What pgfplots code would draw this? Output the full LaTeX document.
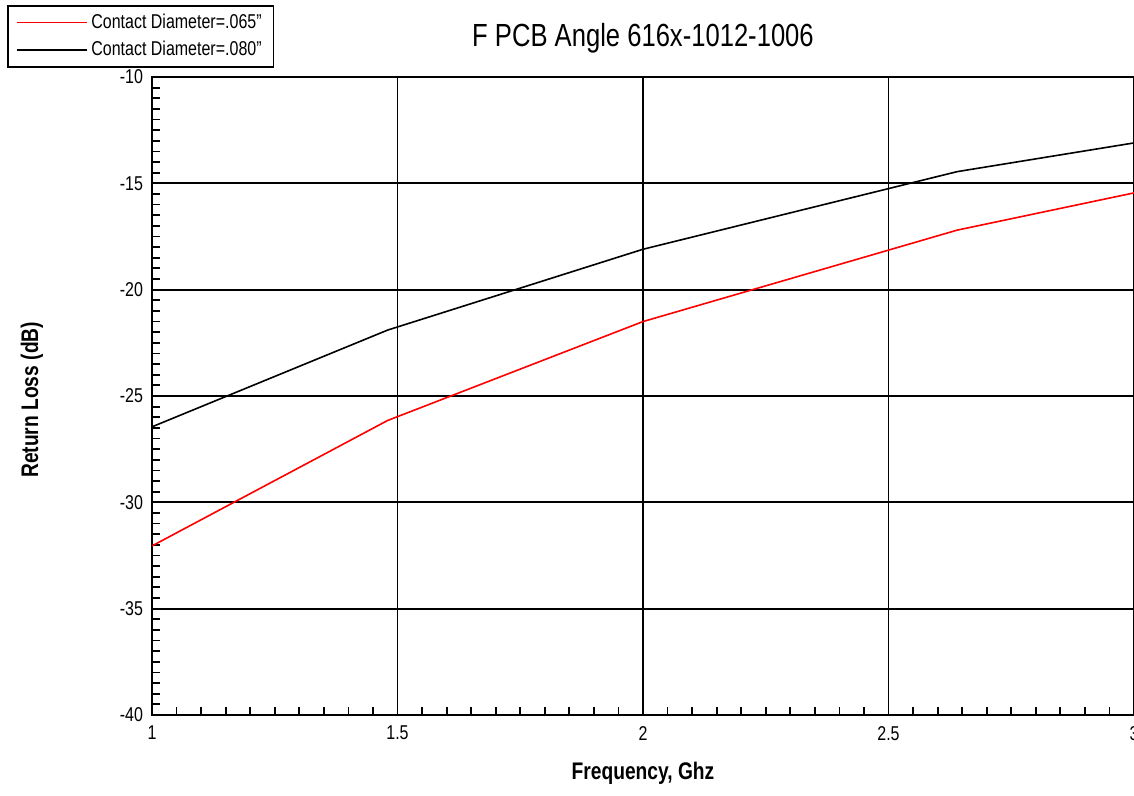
\documentclass[border=0pt]{standalone}
\usepackage{fontspec}
\setmainfont{Liberation Sans}[FakeStretch=0.8]
\usepackage{pgfplots}
\pgfplotsset{compat=1.18}

\begin{document}
\begin{tikzpicture}
% 1 px of the reference = 0.5pt
\useasboundingbox (-76pt,-40.5pt) rectangle (491pt,357.5pt);
\begin{axis}[
    at={(0pt,0pt)}, anchor=south west,
    scale only axis,
    width=491pt, height=319pt,
    xmin=1, xmax=3, ymin=-40, ymax=-10,
    xtick={1,1.5,2,2.5,3},
    ytick={-40,-35,-30,-25,-20,-15,-10},
    minor tick num=9,
    tick align=inside,
    xtick pos=bottom, ytick pos=left,
    minor tick length=4pt, major tick length=4pt,
    grid=major,
    major grid style={black, line width=0.9pt},
    axis line style={black, line width=1pt},
    every tick/.style={black, line width=0.9pt},
    /pgf/number format/assume math mode=true,
    xticklabel style={font=\fontsize{10}{12}\selectfont, yshift=-2pt},
    yticklabel style={font=\fontsize{10}{12}\selectfont, xshift=-1pt},
    title={F PCB Angle 616x-1012-1006},
    title style={at={(0.5,1)}, anchor=center, yshift=13.5pt, font=\fontsize{16}{19}\selectfont},
    xlabel={\textbf{Frequency, Ghz}},
    ylabel={\textbf{Return Loss (dB)}},
    xlabel style={at={(axis description cs:0.5,0)}, anchor=center, yshift=-29pt, font=\fontsize{12}{14}\selectfont},
    ylabel style={at={(axis description cs:-0.1222,0.494)}, anchor=center, font=\fontsize{12}{14}\selectfont},
    legend style={at={(axis description cs:-0.1477,1.1129)}, anchor=north west,
        draw=black, line width=0.8pt, font=\fontsize{10}{12}\selectfont,
        row sep=1pt, inner xsep=4pt, inner ysep=2pt},
    legend cell align=left,
    legend image code/.code={\draw[#1, line width=0.8pt] (0pt,0pt) -- (35pt,0pt);},
]
\addplot[red, line width=0.8pt] coordinates {
    (1,-32.05) (1.48,-26.15) (2,-21.5) (2.64,-17.2) (3,-15.45)
};
\addlegendentry{Contact Diameter=.065"}
\addplot[black, line width=0.8pt] coordinates {
    (1,-26.45) (1.48,-21.9) (2,-18.1) (2.64,-14.45) (3,-13.1)
};
\addlegendentry{Contact Diameter=.080"}
\end{axis}
\end{tikzpicture}
\end{document}
